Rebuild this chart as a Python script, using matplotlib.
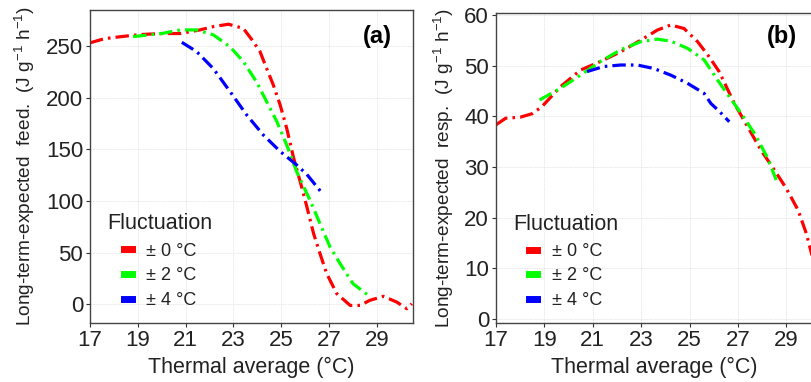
import matplotlib
matplotlib.use('Agg')
import matplotlib.pyplot as plt

plt.rcParams['font.family'] = ['Liberation Sans', 'DejaVu Sans']
plt.rcParams['mathtext.fontset'] = 'custom'
plt.rcParams['mathtext.rm'] = 'Liberation Sans'

# panel (a): feeding
feed_x0 = [17, 17.6, 18.3, 19.1, 20, 20.77, 21.6, 22.16, 22.79, 23.41, 23.77, 24.11, 24.39, 24.67, 24.95,
           25.23, 25.5, 25.85, 26.07, 26.35, 26.62, 26.9, 27.32, 27.88, 28.3, 28.7, 29.27, 29.83, 30.25, 30.46]
feed_y0 = [253, 257, 259, 261, 262, 262, 265.5, 268.7, 271, 267, 256, 244.5, 228, 212, 193,
           170, 143, 113.7, 94.3, 68.5, 49, 29.7, 10.4, -1, -1, 3.9, 7.8, 2.2, -4.2, 0.6]
feed_x2 = [18.8, 20, 20.77, 21.46, 22.16, 22.86, 23.41, 23.97, 24.39, 24.81, 25.23, 25.65, 26.2, 26.62,
           27.04, 27.46, 28.0, 28.64]
feed_y2 = [259, 262, 265.5, 265.5, 260.7, 249, 235, 215, 196, 177, 154, 128, 100.8, 78,
           55.5, 39.4, 20, 8.7]
feed_x4 = [20.84, 21.46, 22.16, 22.86, 23.56, 24.25, 24.95, 25.65, 26.07, 26.69]
feed_y4 = [253.5, 244.5, 228, 205.7, 183, 163.8, 148, 134.7, 125.7, 108]

# panel (b): respiration
resp_x0 = [17, 17.4, 18.0, 18.5, 18.9, 19.66, 20.49, 21.32, 22.15, 22.98, 23.67, 24.22, 24.77, 25.33,
           25.81, 26.22, 26.85, 27.4, 27.95, 28.5, 28.99, 29.48, 29.82, 30.07]
resp_y0 = [38.3, 39.6, 39.8, 40.5, 41.9, 45.8, 49.1, 50.8, 52.7, 55, 57, 58, 57.3, 54.7,
           51.7, 48.8, 42.5, 37.9, 33.3, 29.4, 25.8, 21.5, 16.9, 12.3]
resp_x2 = [18.8, 19.66, 20.49, 21.32, 22.15, 22.98, 23.67, 24.22, 24.91, 25.6, 26.16, 27.12, 27.68,
           28.23, 28.58]
resp_y2 = [43.2, 45.5, 48.1, 50.8, 53.1, 54.7, 55.2, 54.8, 53.4, 51.1, 47.1, 40.6, 36.6,
           31.7, 27.4]
resp_x4 = [20.76, 21.45, 22.15, 22.84, 23.53, 24.22, 24.91, 25.6, 25.88, 26.22, 26.64]
resp_y4 = [48.8, 49.8, 50.1, 50.1, 49.4, 48.1, 46.5, 44.5, 42.5, 41.0, 38.9]

labels = ['± 0 °C', '± 2 °C', '± 4 °C']
colors = ['#ff0000', '#00ff00', '#0000ff']
dash = (0, (4.2, 1.6, 0.8, 1.6))
txt = '#222222'

fig = plt.figure(figsize=(8.11, 3.82), dpi=100)
ax1 = fig.add_axes([0.111, 0.1545, 0.398, 0.82])
ax2 = fig.add_axes([0.6116, 0.1545, 0.39, 0.812])

for ax, series in [(ax1, [(feed_x0, feed_y0), (feed_x2, feed_y2), (feed_x4, feed_y4)]),
                   (ax2, [(resp_x0, resp_y0), (resp_x2, resp_y2), (resp_x4, resp_y4)])]:
    for (x, y), c, lab in zip(series, colors, labels):
        ax.plot(x, y, color=c, linestyle=dash, linewidth=2.3, label=lab)
    ax.set_xlim(17, 30.5)
    ax.set_xticks([17, 19, 21, 23, 25, 27, 29])
    ax.grid(True, color='#e6e6e6', linestyle=(0, (2, 1)), linewidth=0.6)
    ax.set_axisbelow(True)
    ax.tick_params(labelsize=16, length=3, color='#333333', labelcolor=txt, pad=2)
    for s in ax.spines.values():
        s.set_color('#444444')
        s.set_linewidth(1)
    ax.set_xlabel('Thermal average (°C)', fontsize=15.5, color=txt, labelpad=4)
    ax.text(0.053, 0.319, 'Fluctuation', transform=ax.transAxes, fontsize=15.5,
            color=txt, ha='left', va='center')
    leg = ax.legend(loc='lower left', bbox_to_anchor=(0.105, 0.045), borderpad=0,
                    borderaxespad=0, frameon=False, fontsize=13, handlelength=0.45,
                    handletextpad=0.8, labelspacing=0.42)
    for h in leg.legend_handles:
        h.set_linestyle('-')
        h.set_linewidth(5)
    for t in leg.get_texts():
        t.set_color(txt)

ax1.set_ylim(-18, 285)
ax1.set_yticks([0, 50, 100, 150, 200, 250])
ax1.set_ylabel(r'Long-term-expected  feed.  (J g$^{\mathregular{-1}}$ h$^{\mathregular{-1}}$)',
               fontsize=13.7, color=txt, labelpad=6)
ax1.text(0.89, 0.914, '(a)', transform=ax1.transAxes, fontsize=17, fontweight='bold',
         ha='center', va='center')

ax2.set_xlim(17, 30.07)
ax2.set_ylim(-0.8, 60.4)
ax2.set_yticks([0, 10, 20, 30, 40, 50, 60])
ax2.spines['right'].set_visible(False)
ax2.set_ylabel(r'Long-term-expected  resp.  (J g$^{\mathregular{-1}}$ h$^{\mathregular{-1}}$)',
               fontsize=13.7, color=txt, labelpad=6)
ax2.text(0.905, 0.923, '(b)', transform=ax2.transAxes, fontsize=17, fontweight='bold',
         ha='center', va='center')

fig.savefig('out.png', dpi=100)
